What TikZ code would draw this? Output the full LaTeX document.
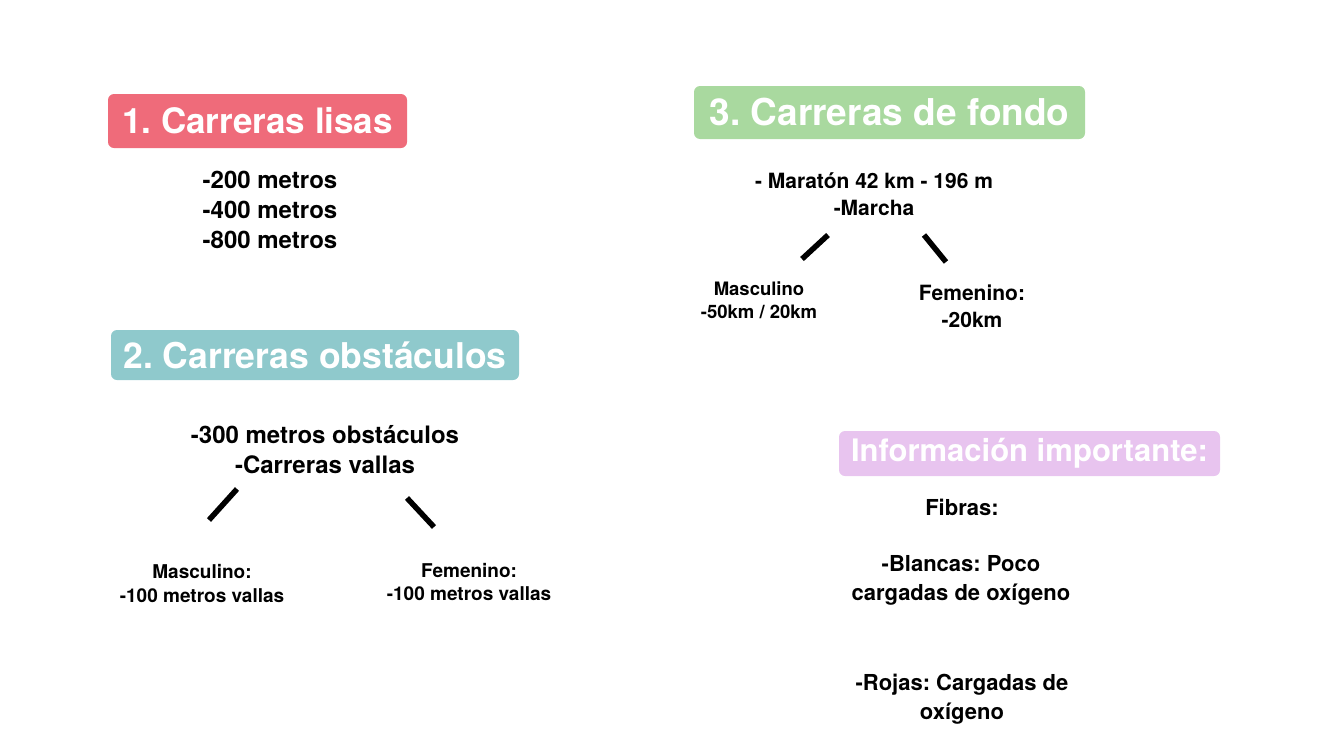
\documentclass[tikz,border=0pt]{standalone}
\usepackage{fontspec}
\setmainfont{TeX Gyre Heros}
\frenchspacing
\definecolor{cred}{HTML}{EF6B7A}
\definecolor{cteal}{HTML}{8FC9CC}
\definecolor{cgreen}{HTML}{A9D99F}
\definecolor{cpurple}{HTML}{E8C4EF}
\tikzset{
  titlebox/.style={rounded corners=6pt, text=white, inner sep=0pt, font=\fontsize{35.5}{40}\selectfont\bfseries},
  body/.style={inner sep=0pt, align=center, text=black, font=\fontsize{24}{30}\selectfont\bfseries},
  small/.style={inner sep=0pt, align=center, text=black, font=\fontsize{19}{24}\selectfont\bfseries},
  slash/.style={line width=5.5pt, black}
}
\begin{document}
\begin{tikzpicture}[x=1pt,y=-1pt]
\useasboundingbox (0,0) rectangle (1334,750);
% title boxes
\node[titlebox, fill=cred, minimum width=299pt, minimum height=54pt, font=\fontsize{35}{40}\selectfont\bfseries] (t1) at (257.5,121) {1. Carreras lisas};
\node[titlebox, fill=cteal, minimum width=408pt, minimum height=50pt] (t2) at (315,355) {2. Carreras obstáculos};
\node[titlebox, fill=cgreen, minimum width=391pt, minimum height=53pt, font=\fontsize{37}{40}\selectfont\bfseries] (t3) at (889.5,112.5) {3. Carreras de fondo};
\node[titlebox, fill=cpurple, minimum width=381pt, minimum height=45pt, font=\fontsize{31}{34}\selectfont\bfseries] (t4) at (1029.5,453.5) {Información importante:};
% section 1
\node[body, align=left] (l1) at (270,209.5) {-200 metros\\-400 metros\\-800 metros};
% section 2
\node[body] (o1) at (325,450) {-300 metros obstáculos\\-Carreras vallas};
\node[small] (om) at (202,583) {Masculino:\\-100 metros vallas};
\node[small] (of) at (469,582) {Femenino:\\-100 metros vallas};
\coordinate (oa1) at (237,489); \coordinate (oa2) at (209,520);
\coordinate (ob1) at (407,498); \coordinate (ob2) at (434,527);
\draw[slash] (oa1) -- (oa2);
\draw[slash] (ob1) -- (ob2);
% section 3
\node[body, font=\fontsize{21}{27}\selectfont\bfseries] (f1) at (874,194.5) {- Maratón 42 km - 196 m\\-Marcha};
\node[small, font=\fontsize{18.5}{23}\selectfont\bfseries] (fm) at (759,300.5) {Masculino\\-50km / 20km};
\node[small, font=\fontsize{21}{27}\selectfont\bfseries] (ff) at (972,306.5) {Femenino:\\-20km};
\coordinate (fa1) at (828,235); \coordinate (fa2) at (802,259);
\coordinate (fb1) at (924,235); \coordinate (fb2) at (946,262);
\draw[slash] (fa1) -- (fa2);
\draw[slash] (fb1) -- (fb2);
% section 4
\node[small, font=\fontsize{22}{29}\selectfont\bfseries] (i1) at (962,507) {Fibras:};
\node[body, font=\fontsize{22}{29}\selectfont\bfseries] (i2) at (961,580.5) {-Blancas: Poco\\cargadas de oxígeno};
\node[body, font=\fontsize{22}{29}\selectfont\bfseries] (i3) at (962,699.5) {-Rojas: Cargadas de\\oxígeno};
\end{tikzpicture}
\end{document}
